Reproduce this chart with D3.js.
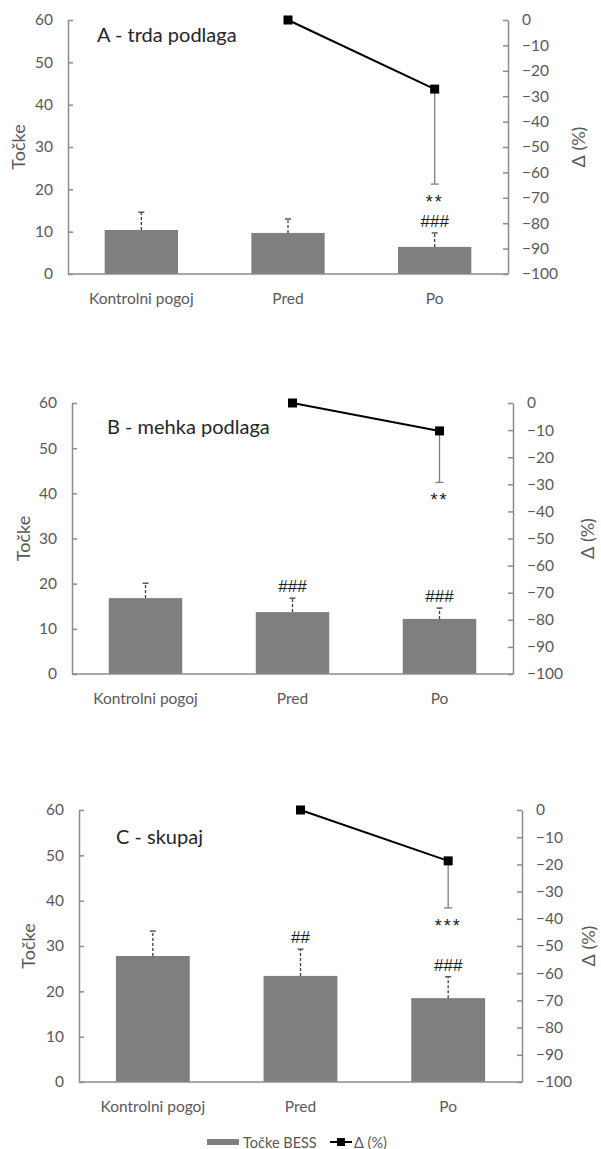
<html>
<head>
    <script src="https://cdn.jsdelivr.net/npm/d3@7"></script>
    <style>
        body { margin: 0; background: white; font-family: Lato, "Open Sans", sans-serif; }
        svg { display: block; }
    </style>
</head>
<body>
<svg id="chart" width="601" height="1149"></svg>
<script>
    // data
    const categories = ["Kontrolni pogoj", "Pred", "Po"];
    const panelTitles = ["A - trda podlaga", "B - mehka podlaga", "C - skupaj"];

    const barsA = [10.4, 9.7, 6.4];
    const barErrA = [4.2, 3.3, 3.3];
    const barsB = [16.8, 13.7, 12.2];
    const barErrB = [3.3, 3.1, 2.4];
    const barsC = [27.8, 23.4, 18.5];
    const barErrC = [5.5, 5.9, 4.7];

    // delta only for Pred and Po
    const deltaCats = ["Pred", "Po"];
    const deltaA = [0, -27.2];
    const deltaErrA = [0, 37.4];
    const deltaB = [0, -10.3];
    const deltaErrB = [0, 19.0];
    const deltaC = [0, -18.7];
    const deltaErrC = [0, 17.3];

    // significance marks: above bar error (hash) and below delta error (stars)
    const hashA = ["", "", "###"];
    const starA = ["", "**"];
    const hashB = ["", "###", "###"];
    const starB = ["", "**"];
    const hashC = ["", "##", "###"];
    const starC = ["", "***"];

    const leftTicks = [0, 10, 20, 30, 40, 50, 60];
    const rightTicks = [0, -10, -20, -30, -40, -50, -60, -70, -80, -90, -100];

    const panels = [
        {title: panelTitles[0], bars: barsA, err: barErrA, delta: deltaA, dErr: deltaErrA, hash: hashA, star: starA,
         left: 68, right: 508, top: 20, bottom: 274, titleX: 97, titleY: 42, yTitleX: 18, dTitleX: 578},
        {title: panelTitles[1], bars: barsB, err: barErrB, delta: deltaB, dErr: deltaErrB, hash: hashB, star: starB,
         left: 72, right: 513, top: 403, bottom: 674, titleX: 107, titleY: 434, yTitleX: 23, dTitleX: 587},
        {title: panelTitles[2], bars: barsC, err: barErrC, delta: deltaC, dErr: deltaErrC, hash: hashC, star: starC,
         left: 79, right: 522, top: 810, bottom: 1082, titleX: 116, titleY: 844, yTitleX: 28, dTitleX: 588}
    ];

    const svg = d3.select("#chart");
    const grey = "#595959";
    const axisCol = "#8c8c8c";
    const barCol = "#7f7f7f";

    panels.forEach(p => {
        const g = svg.append("g");
        const x = d3.scaleBand().domain(categories).range([p.left, p.right]).paddingInner(0.5).paddingOuter(0.25);
        const y = d3.scaleLinear().domain([0, 60]).range([p.bottom, p.top]);
        const y2 = d3.scaleLinear().domain([-100, 0]).range([p.bottom, p.top]);

        // bars
        g.selectAll(".bar").data(p.bars).enter().append("rect")
            .attr("x", (d, i) => x(categories[i]))
            .attr("y", d => y(d))
            .attr("width", x.bandwidth())
            .attr("height", d => y(0) - y(d))
            .attr("fill", barCol);

        // bar error bars (upper only, dashed)
        p.bars.forEach((v, i) => {
            const cx = x(categories[i]) + x.bandwidth() / 2;
            g.append("line").attr("x1", cx).attr("x2", cx)
                .attr("y1", y(v)).attr("y2", y(v + p.err[i]))
                .attr("stroke", "#404040").attr("stroke-width", 1.3).attr("stroke-dasharray", "3,2");
            g.append("line").attr("x1", cx - 3).attr("x2", cx + 3)
                .attr("y1", y(v + p.err[i])).attr("y2", y(v + p.err[i]))
                .attr("stroke", "#404040").attr("stroke-width", 1.3);
            if (p.hash[i]) {
                g.append("text").attr("x", cx).attr("y", y(v + p.err[i]) - 6)
                    .attr("text-anchor", "middle")
                    .style("font-family", "Liberation Sans, Arial, sans-serif")
                    .style("font-size", "17px").attr("fill", "#1a1a1a")
                    .text(p.hash[i]);
            }
        });

        // axes
        const axL = d3.axisLeft(y).tickValues(leftTicks).tickSizeInner(-5).tickSizeOuter(0).tickPadding(15);
        const gl = g.append("g").attr("transform", `translate(${p.left},0)`).call(axL);
        const axR = d3.axisRight(y2).tickValues(rightTicks).tickSizeInner(-5).tickSizeOuter(0).tickPadding(14);
        const gr = g.append("g").attr("transform", `translate(${p.right},0)`).call(axR);
        [gl, gr].forEach(a => {
            a.select(".domain").attr("stroke", axisCol).attr("stroke-width", 1.5);
            a.selectAll(".tick line").attr("stroke", axisCol).attr("stroke-width", 1.5);
            a.selectAll(".tick text").attr("fill", grey).style("font-size", "15.5px").style("font-family", "Lato, sans-serif");
        });
        g.append("line").attr("x1", p.left).attr("x2", p.right)
            .attr("y1", p.bottom).attr("y2", p.bottom)
            .attr("stroke", axisCol).attr("stroke-width", 1.5);

        // category labels
        g.selectAll(".cat").data(categories).enter().append("text")
            .attr("x", d => x(d) + x.bandwidth() / 2)
            .attr("y", p.bottom + 30)
            .attr("text-anchor", "middle")
            .attr("fill", grey).style("font-size", "15.5px")
            .text(d => d);

        // axis titles
        g.append("text")
            .attr("transform", `translate(${p.yTitleX},${(p.top + p.bottom) / 2}) rotate(-90)`)
            .attr("text-anchor", "middle").attr("dominant-baseline", "central")
            .attr("fill", grey).style("font-size", "18px").text("Točke");
        g.append("text")
            .attr("transform", `translate(${p.dTitleX},${(p.top + p.bottom) / 2}) rotate(-90)`)
            .attr("text-anchor", "middle").attr("dominant-baseline", "central")
            .attr("fill", grey).style("font-size", "18px").text("Δ (%)");

        // panel title
        g.append("text").attr("x", p.titleX).attr("y", p.titleY)
            .attr("fill", "#262626").style("font-size", "20px").text(p.title);

        // delta error bars (lower only)
        p.delta.forEach((v, i) => {
            if (!p.dErr[i]) return;
            const cx = x(deltaCats[i]) + x.bandwidth() / 2;
            g.append("line").attr("x1", cx).attr("x2", cx)
                .attr("y1", y2(v)).attr("y2", y2(v - p.dErr[i]))
                .attr("stroke", "#7f7f7f").attr("stroke-width", 1.3);
            g.append("line").attr("x1", cx - 4).attr("x2", cx + 4)
                .attr("y1", y2(v - p.dErr[i])).attr("y2", y2(v - p.dErr[i]))
                .attr("stroke", "#7f7f7f").attr("stroke-width", 1.3);
            if (p.star[i]) {
                g.append("text").attr("x", cx).attr("y", y2(v - p.dErr[i]) + 24)
                    .attr("text-anchor", "middle")
                    .style("font-family", "Liberation Sans, Arial, sans-serif")
                    .style("font-size", "18px").style("letter-spacing", "2px").attr("fill", "#1a1a1a")
                    .text(p.star[i]);
            }
        });

        // delta line + markers
        const line = d3.line()
            .x((d, i) => x(deltaCats[i]) + x.bandwidth() / 2)
            .y(d => y2(d));
        g.append("path").datum(p.delta).attr("d", line)
            .attr("fill", "none").attr("stroke", "black").attr("stroke-width", 2);
        g.selectAll(".mk").data(p.delta).enter().append("rect")
            .attr("x", (d, i) => x(deltaCats[i]) + x.bandwidth() / 2 - 4.5)
            .attr("y", d => y2(d) - 4.5)
            .attr("width", 9).attr("height", 9).attr("fill", "black");
    });

    // legend
    const lg = svg.append("g");
    lg.append("rect").attr("x", 207).attr("y", 1139).attr("width", 32).attr("height", 6).attr("fill", barCol);
    lg.append("text").attr("x", 243).attr("y", 1142).attr("dominant-baseline", "central")
        .attr("fill", grey).style("font-size", "14.5px").text("Točke BESS");
    lg.append("line").attr("x1", 330).attr("x2", 352).attr("y1", 1142).attr("y2", 1142)
        .attr("stroke", "black").attr("stroke-width", 2);
    lg.append("rect").attr("x", 337).attr("y", 1138).attr("width", 8).attr("height", 8).attr("fill", "black");
    lg.append("text").attr("x", 354).attr("y", 1142).attr("dominant-baseline", "central")
        .attr("fill", grey).style("font-size", "14.5px").text("Δ (%)");
</script>
</body>
</html>
